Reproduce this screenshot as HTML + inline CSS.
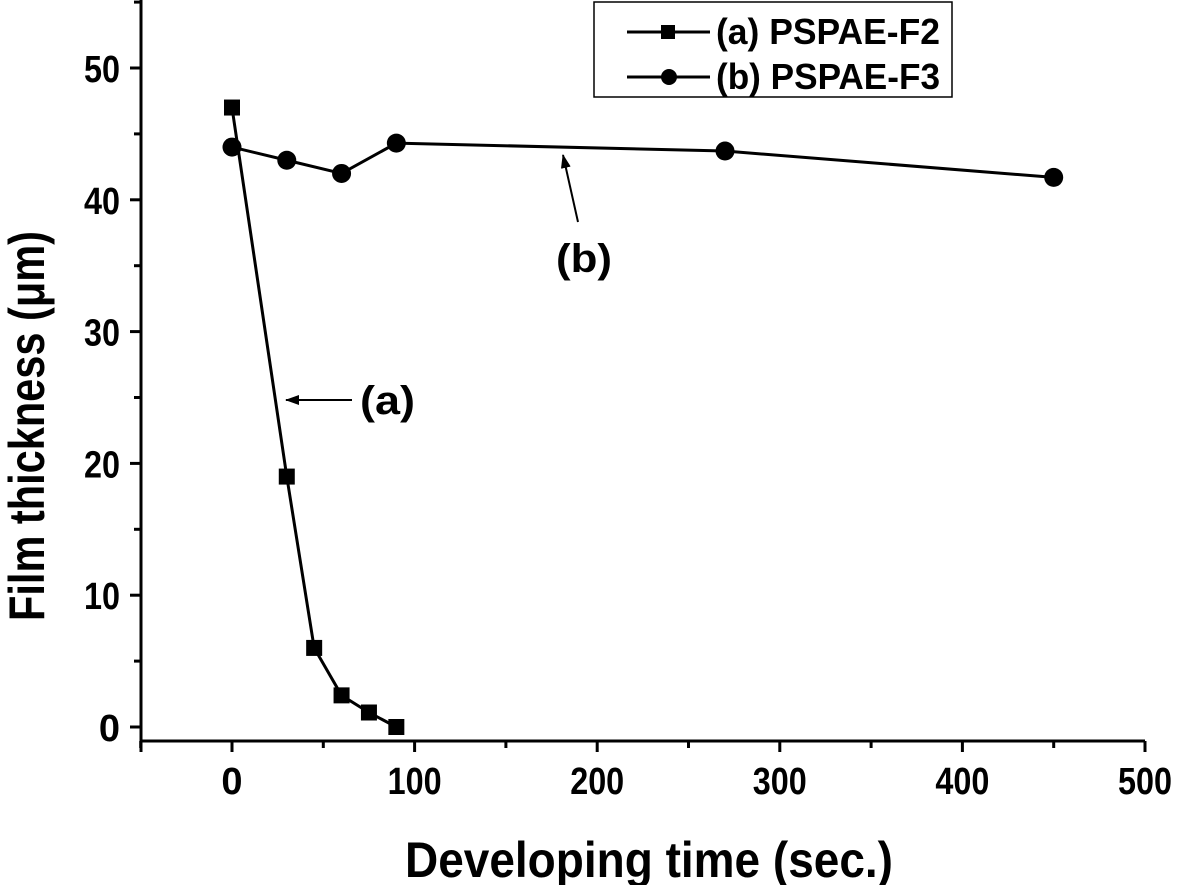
<!DOCTYPE html>
<html><head><meta charset="utf-8"><style>
body{margin:0;background:#fff}
svg{display:block;font-family:"Liberation Sans",Arial,sans-serif;font-weight:bold}
</style></head><body>
<svg id="chart" width="1179" height="885" viewBox="0 0 1179 885">
<defs><marker id="ah" markerWidth="14" markerHeight="10" refX="13" refY="5" orient="auto" markerUnits="userSpaceOnUse"><path d="M0,0 L14,5 L0,10 Z" fill="#000"/></marker></defs>
<g id="axes"></g>
<g id="series"></g>
<text x="44" y="426" font-size="50" text-anchor="middle" textLength="390" lengthAdjust="spacingAndGlyphs" transform="rotate(-90 44 426)">Film thickness (μm)</text>
<text x="649" y="877" font-size="50" text-anchor="middle" textLength="488" lengthAdjust="spacingAndGlyphs">Developing time (sec.)</text>
<g>
<rect x="594" y="2" width="358" height="95" fill="#fff" stroke="#000" stroke-width="1.5"/>
<line x1="627" y1="32" x2="710" y2="32" stroke="#000" stroke-width="3"/>
<rect x="661" y="25" width="14" height="14" fill="#000"/>
<text x="716" y="44" font-size="36" textLength="224" lengthAdjust="spacingAndGlyphs">(a) PSPAE-F2</text>
<line x1="627" y1="77" x2="710" y2="77" stroke="#000" stroke-width="3"/>
<circle cx="669" cy="77" r="8" fill="#000"/>
<text x="716" y="89" font-size="36" textLength="224" lengthAdjust="spacingAndGlyphs">(b) PSPAE-F3</text>
</g>
<g>
<line x1="352" y1="400" x2="286" y2="400" stroke="#000" stroke-width="2" marker-end="url(#ah)"/>
<text x="360" y="414" font-size="40" textLength="55" lengthAdjust="spacingAndGlyphs">(a)</text>
</g>
<g>
<line x1="578" y1="222" x2="563" y2="155" stroke="#000" stroke-width="2" marker-end="url(#ah)"/>
<text x="556" y="272" font-size="40" textLength="56" lengthAdjust="spacingAndGlyphs">(b)</text>
</g>
</svg>
<script>
const xTicks=[0,100,200,300,400,500];
const yTicks=[0,10,20,30,40,50];
const aX=[0,30,45,60,75,90];
const aY=[47,19,6,2.4,1.1,0];
const bX=[0,30,60,90,270,450];
const bY=[44,43,42,44.3,43.7,41.7];
const X0=232,XS=1.826,Y0=727,YS=13.18;
const sx=v=>X0+v*XS, sy=v=>Y0-v*YS;
const NS="http://www.w3.org/2000/svg";
function mk(t,a,p){const e=document.createElementNS(NS,t);for(const k in a)e.setAttribute(k,a[k]);p.appendChild(e);return e;}
const ax=document.getElementById('axes');
const xl=mk('line',{x1:141,y1:741,x2:1145,y2:741,stroke:'#000','stroke-width':3},ax);


const yl=mk('line',{x1:141,y1:0,x2:141,y2:741,stroke:'#000','stroke-width':3},ax);


mk('line',{x1:141,y1:741,x2:141,y2:752,stroke:'#000','stroke-width':3},ax);
xTicks.forEach(v=>{
 mk('line',{x1:sx(v),y1:741,x2:sx(v),y2:752,stroke:'#000','stroke-width':3},ax);
 mk('line',{x1:sx(v-50),y1:741,x2:sx(v-50),y2:748,stroke:'#000','stroke-width':3},ax);
 const t=mk('text',{x:sx(v),y:794,'font-size':38,'text-anchor':'middle'},ax);t.textContent=v;
 if(String(v).length>1){t.setAttribute('textLength',String(v).length*18);t.setAttribute('lengthAdjust','spacingAndGlyphs');}
 
 
});
yTicks.forEach(v=>{
 mk('line',{x1:130,y1:sy(v),x2:141,y2:sy(v),stroke:'#000','stroke-width':3},ax);
 mk('line',{x1:134,y1:sy(v+5),x2:141,y2:sy(v+5),stroke:'#000','stroke-width':3},ax);
 const t=mk('text',{x:120,y:sy(v)+14,'font-size':38,'text-anchor':'end'},ax);t.textContent=v;
 if(String(v).length>1){t.setAttribute('textLength',String(v).length*18);t.setAttribute('lengthAdjust','spacingAndGlyphs');}
 
 
});
const sg=document.getElementById('series');
const pa=mk('polyline',{points:aX.map((x,i)=>sx(x)+','+sy(aY[i])).join(' '),fill:'none',stroke:'#000','stroke-width':3},sg);


aX.forEach((x,i)=>{const r=mk('rect',{x:sx(x)-8,y:sy(aY[i])-8,width:16,height:16,fill:'#000'},sg);
 
 });
const pb=mk('polyline',{points:bX.map((x,i)=>sx(x)+','+sy(bY[i])).join(' '),fill:'none',stroke:'#000','stroke-width':3},sg);


bX.forEach((x,i)=>{const c=mk('circle',{cx:sx(x),cy:sy(bY[i]),r:9.5,fill:'#000'},sg);
 
 });
</script>
</body></html>
